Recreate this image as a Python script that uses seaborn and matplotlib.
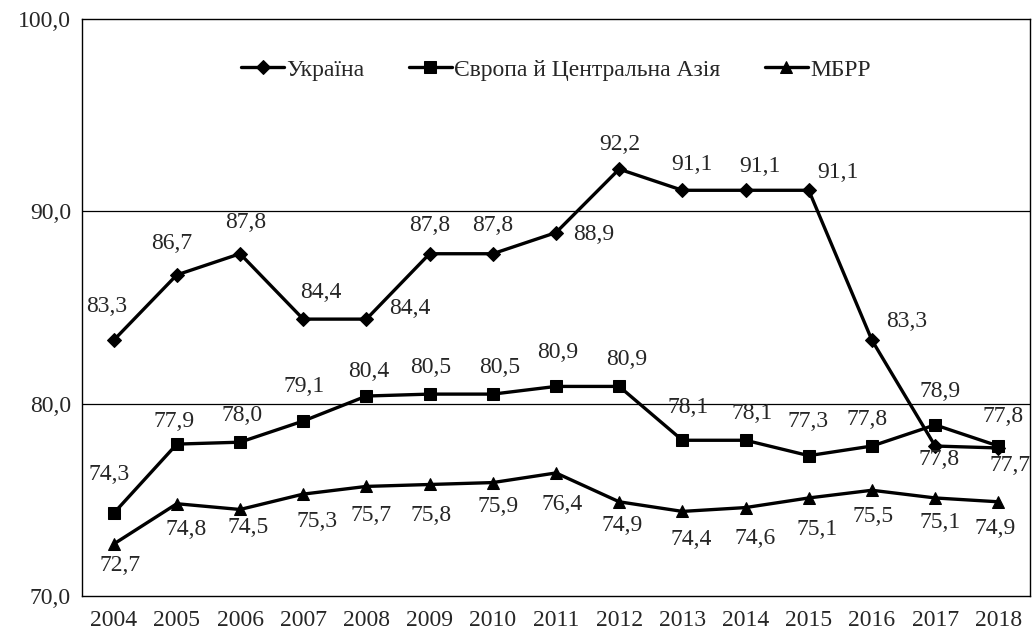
import matplotlib
matplotlib.use("Agg")
import matplotlib.pyplot as plt
import matplotlib.ticker as mticker
import seaborn as sns
import pandas as pd

years = list(range(2004, 2019))
ukraine = [83.3, 86.7, 87.8, 84.4, 84.4, 87.8, 87.8, 88.9, 92.2, 91.1, 91.1, 91.1, 83.3, 77.8, 77.7]
europe = [74.3, 77.9, 78.0, 79.1, 80.4, 80.5, 80.5, 80.9, 80.9, 78.1, 78.1, 77.3, 77.8, 78.9, 77.8]
ibrd = [72.7, 74.8, 74.5, 75.3, 75.7, 75.8, 75.9, 76.4, 74.9, 74.4, 74.6, 75.1, 75.5, 75.1, 74.9]
series_names = ["Україна", "Європа й Центральна Азія", "МБРР"]

# label offsets (pixels, label centre relative to marker)
ukr_off = [(-7, 34), (-5, 31), (6, 31), (18, 27), (43, 11), (0, 28), (0, 28), (38, -2),
           (1, 25), (10, 26), (14, 24), (29, 18), (35, 19), (4, -13), (12, -18)]
eur_off = [(-5, 39), (-3, 23), (2, 27), (1, 35), (2, 25), (1, 27), (7, 27), (2, 34),
           (8, 27), (6, 33), (7, 27), (-1, 34), (-5, 27), (5, 33), (5, 30)]
ibrd_off = [(6, -21), (9, -26), (8, -18), (14, -27), (5, -29), (1, -31), (5, -24), (6, -32),
            (3, -24), (9, -28), (10, -31), (8, -32), (1, -26), (5, -25), (-3, -27)]

sns.set_style("white")
plt.rcParams["font.family"] = ["Liberation Serif", "DejaVu Serif"]
plt.rcParams["font.size"] = 17


def fmt(v):
    return f"{v:.1f}".replace(".", ",")


df = pd.DataFrame({
    "year": years * 3,
    "value": ukraine + europe + ibrd,
    "series": [series_names[0]] * 15 + [series_names[1]] * 15 + [series_names[2]] * 15,
})

fig = plt.figure(figsize=(10.32, 6.38), dpi=100)
ax = fig.add_axes([0.0795, 0.0658, 0.9185, 0.9042])

sns.lineplot(data=df, x="year", y="value", hue="series", style="series",
             hue_order=series_names, style_order=series_names,
             palette=["black"] * 3, markers={series_names[0]: "D", series_names[1]: "s", series_names[2]: "^"},
             dashes=False, linewidth=2.4, markersize=9, markeredgecolor="black", ax=ax)

# diamonds a bit smaller than squares
for line in ax.lines:
    if line.get_marker() == "D":
        line.set_markersize(7)

for vals, offs in [(ukraine, ukr_off), (europe, eur_off), (ibrd, ibrd_off)]:
    for x, v, (dx, dy) in zip(years, vals, offs):
        ax.annotate(fmt(v), (x, v), xytext=(dx, dy), textcoords="offset pixels",
                    ha="center", va="center", fontsize=17)

ax.set_xlim(2003.5, 2018.5)
ax.set_ylim(70, 100)
ax.set_yticks([70, 80, 90, 100])
ax.yaxis.set_major_formatter(mticker.FuncFormatter(lambda v, p: fmt(v)))
ax.set_xticks(years)
ax.set_xticklabels([str(y) for y in years])
ax.set_xticks([y - 0.5 for y in years] + [2018.5], minor=True)
ax.tick_params(axis="x", which="major", length=0, pad=10, labelsize=17)
ax.tick_params(axis="x", which="minor", length=7, width=1, color="black", direction="out")
ax.tick_params(axis="y", length=6, width=1, color="black", direction="out", pad=2, labelsize=17)
ax.set_xlabel("")
ax.set_ylabel("")

for y in [80, 90]:
    ax.axhline(y, color="black", linewidth=0.9, zorder=0)
for s in ax.spines.values():
    s.set_color("black")
    s.set_linewidth(1.0)

handles, labels = ax.get_legend_handles_labels()
ax.legend(handles, labels, loc="center", bbox_to_anchor=(0.5, 0.912), ncol=3, frameon=False,
          fontsize=17, handlelength=1.8, handletextpad=0.1, columnspacing=1.9)

fig.savefig("out.png", dpi=100)
